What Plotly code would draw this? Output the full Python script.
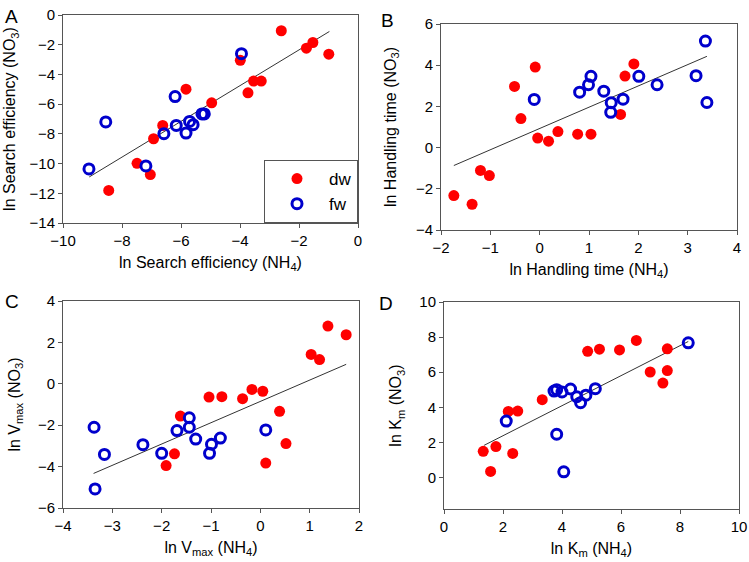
import plotly.graph_objects as go

# ---------------- data ----------------
# Panel A: ln Search efficiency
a_dw_x = [-2.60, -1.75, -1.53, -0.99, -3.99, -3.54, -3.28, -3.73, -5.83, -4.96, -6.62, -6.93, -7.49, -7.04, -8.45]
a_dw_y = [-1.06, -2.23, -1.85, -2.64, -3.05, -4.45, -4.45, -5.24, -4.99, -5.91, -7.43, -8.33, -9.98, -10.74, -11.81]
a_fw_x = [-3.95, -6.20, -8.55, -6.58, -6.16, -5.83, -5.71, -5.59, -5.29, -5.21, -7.19, -9.12]
a_fw_y = [-2.60, -5.49, -7.20, -7.99, -7.43, -7.95, -7.16, -7.38, -6.66, -6.66, -10.16, -10.36]
a_fit_x = [-9.11, -0.97]
a_fit_y = [-10.90, -1.11]

# Panel B: ln Handling time
b_dw_x = [-1.74, -1.37, -1.20, -1.02, -0.51, -0.38, -0.09, -0.04, 0.18, 0.37, 0.77, 1.04, 1.64, 1.73, 1.91]
b_dw_y = [-2.33, -2.75, -1.11, -1.36, 2.97, 1.41, 3.91, 0.46, 0.31, 0.78, 0.65, 0.65, 1.61, 3.47, 4.06]
b_fw_x = [-0.11, 0.81, 0.99, 1.04, 1.30, 1.45, 1.44, 1.69, 2.01, 2.38, 3.17, 3.36, 3.39]
b_fw_y = [2.34, 2.69, 3.05, 3.46, 2.74, 2.18, 1.71, 2.35, 3.46, 3.05, 3.49, 5.17, 2.19]
b_fit_x = [-1.74, 3.39]
b_fit_y = [-0.87, 4.43]

# Panel C: ln Vmax
c_dw_x = [1.74, 1.37, 1.03, 1.20, -1.04, -0.78, -0.36, -0.17, 0.05, 0.39, 0.52, 0.11, -1.62, -1.74, -1.91]
c_dw_y = [2.37, 2.79, 1.42, 1.17, -0.64, -0.62, -0.72, -0.27, -0.36, -1.33, -2.89, -3.83, -1.56, -3.38, -3.95]
c_fw_x = [-3.37, -3.16, -3.35, -2.38, -2.00, -1.69, -1.44, -1.44, -1.31, -0.99, -1.03, -0.81, 0.11]
c_fw_y = [-2.10, -3.41, -5.08, -2.94, -3.36, -2.26, -1.64, -2.10, -2.67, -2.92, -3.36, -2.62, -2.23]
c_fit_x = [-3.38, 1.74]
c_fit_y = [-4.33, 0.94]

# Panel D: ln Km
d_dw_x = [1.33, 1.58, 1.76, 2.18, 2.50, 2.33, 3.33, 4.87, 5.27, 5.95, 6.52, 6.99, 7.57, 7.57, 7.42]
d_dw_y = [1.49, 0.34, 1.76, 3.76, 3.78, 1.37, 4.43, 7.19, 7.31, 7.27, 7.81, 6.01, 7.33, 6.09, 5.38]
d_fw_x = [2.11, 3.82, 4.06, 3.73, 3.82, 4.00, 4.29, 4.50, 4.63, 4.81, 5.13, 8.28]
d_fw_y = [3.21, 2.46, 0.32, 4.92, 5.00, 4.87, 5.04, 4.60, 4.26, 4.69, 5.06, 7.67]
d_fit_x = [1.36, 8.28]
d_fit_y = [1.83, 7.75]

panel_letters = ["A", "B", "C", "D"]
x_titles = ["ln Search efficiency (NH<sub>4</sub>)", "ln Handling time (NH<sub>4</sub>)",
            "ln V<sub>max</sub> (NH<sub>4</sub>)", "ln K<sub>m</sub> (NH<sub>4</sub>)"]
y_titles = ["ln Search efficiency (NO<sub>3</sub>)", "ln Handling time (NO<sub>3</sub>)",
            "ln V<sub>max</sub> (NO<sub>3</sub>)", "ln K<sub>m</sub> (NO<sub>3</sub>)"]
series_names = ["dw", "fw"]

# ---------------- styling / layout ----------------
W, H = 749, 562
RED = "#ff0000"
BLUE = "#0000cc"
AXC = "#555555"
FONT = "Arial, Liberation Sans, sans-serif"
TICK_SIZE = 15
TITLE_SIZE = 16

# pixel boxes of the four plot areas (left, right, top, bottom)
boxes = [(63, 358, 15, 223), (441, 737, 24, 230), (63, 359, 301, 508), (444, 739, 302, 509)]
xranges = [[-10, 0], [-2, 4], [-4, 2], [0, 10]]
yranges = [[-14, 0], [-4, 6], [-6, 4], [-1.8, 10]]
xdt = [2, 1, 1, 2]
ydt = [2, 2, 2, 2]
y_standoff = [9, 15, 13, 13]
letter_pos = [(3, 4), (379, 8), (3, 289), (377, 291)]

panels = [
    (a_dw_x, a_dw_y, a_fw_x, a_fw_y, a_fit_x, a_fit_y),
    (b_dw_x, b_dw_y, b_fw_x, b_fw_y, b_fit_x, b_fit_y),
    (c_dw_x, c_dw_y, c_fw_x, c_fw_y, c_fit_x, c_fit_y),
    (d_dw_x, d_dw_y, d_fw_x, d_fw_y, d_fit_x, d_fit_y),
]

fig = go.Figure()
layout = dict(
    width=W, height=H,
    margin=dict(l=0, r=0, t=0, b=0, autoexpand=False),
    paper_bgcolor="white", plot_bgcolor="white",
    font=dict(family=FONT, size=TICK_SIZE, color="black"),
    showlegend=True,
    legend=dict(
        x=358 / W, xanchor="right", y=1 - 223 / H, yanchor="bottom",
        bordercolor=AXC, borderwidth=1, bgcolor="white",
        font=dict(family=FONT, size=17, color="black"),
        itemwidth=54, indentation=0, tracegroupgap=0,
    ),
    annotations=[],
)

for i, (dx, dy, fx, fy, lx, ly) in enumerate(panels):
    n = "" if i == 0 else str(i + 1)
    xa, ya = "x" + n, "y" + n
    fig.add_trace(go.Scatter(x=lx, y=ly, mode="lines", line=dict(color="#333333", width=1),
                             showlegend=False, hoverinfo="skip", xaxis=xa, yaxis=ya))
    fig.add_trace(go.Scatter(x=dx, y=dy, mode="markers", name=series_names[0],
                             marker=dict(color=RED, size=11, symbol="circle"),
                             showlegend=(i == 0), xaxis=xa, yaxis=ya))
    fig.add_trace(go.Scatter(x=fx, y=fy, mode="markers", name=series_names[1],
                             marker=dict(color=BLUE, size=10, symbol="circle-open",
                                         line=dict(color=BLUE, width=3)),
                             showlegend=(i == 0), xaxis=xa, yaxis=ya))
    l, r, t, b = boxes[i]
    common = dict(showgrid=False, zeroline=False, showline=True, linecolor=AXC, linewidth=1,
                  mirror=True, ticks="outside", ticklen=4, tickcolor=AXC, tickwidth=1,
                  automargin=False,
                  tickfont=dict(family=FONT, size=TICK_SIZE, color="black"), fixedrange=True)
    layout["xaxis" + n] = dict(
        domain=[l / W, r / W], anchor=ya, range=xranges[i], dtick=xdt[i], tick0=0,
        title=dict(text=x_titles[i], font=dict(family=FONT, size=TITLE_SIZE, color="black"), standoff=8),
        **common)
    layout["yaxis" + n] = dict(
        domain=[1 - b / H, 1 - t / H], anchor=xa, range=yranges[i], dtick=ydt[i], tick0=0,
        title=dict(text=y_titles[i], font=dict(family=FONT, size=TITLE_SIZE, color="black"),
                   standoff=y_standoff[i]),
        **common)
    lx0, ly0 = letter_pos[i]
    layout["annotations"].append(dict(
        text=panel_letters[i], xref="paper", yref="paper", x=lx0 / W, y=1 - ly0 / H,
        xanchor="left", yanchor="top", showarrow=False,
        font=dict(family=FONT, size=19, color="black")))

fig.update_layout(**layout)
# remove the browser's default 8px page margin so the figure sits at the window origin
fig.write_html("out.html", config={"displayModeBar": False},
               post_script="document.body.style.margin='0';")
